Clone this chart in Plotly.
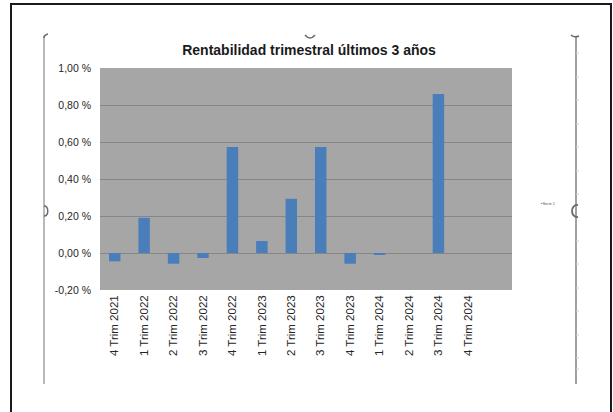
import plotly.graph_objects as go

W, H = 613, 412

categories = ["4 Trim 2021", "1 Trim 2022", "2 Trim 2022", "3 Trim 2022", "4 Trim 2022",
              "1 Trim 2023", "2 Trim 2023", "3 Trim 2023", "4 Trim 2023",
              "1 Trim 2024", "2 Trim 2024", "3 Trim 2024", "4 Trim 2024"]
values = [-0.045, 0.19, -0.058, -0.027, 0.573, 0.065, 0.293, 0.573, -0.058,
          -0.009, 0.0, 0.86, 0.0]
ytick_vals = [-0.2, 0.0, 0.2, 0.4, 0.6, 0.8, 1.0]
ytick_text = ["-0,20 %", "0,00 %", "0,20 %", "0,40 %", "0,60 %", "0,80 %", "1,00 %"]
title_text = "Rentabilidad trimestral últimos 3 años"
series_name = "Serie 1"


def px(x):
    return x / W


def py(y):
    return 1 - y / H


FONT = "Liberation Sans, Arial, sans-serif"

fig = go.Figure()
fig.add_trace(go.Bar(
    x=categories, y=values, name=series_name,
    marker=dict(color="#4a7ebb", line=dict(width=0)),
))

shapes = []
# outer black frame (bottom edge outside the view)
shapes.append(dict(type="path", xref="paper", yref="paper",
                   path=f"M {px(11)},{py(412)} L {px(11)},{py(4)} L {px(611)},{py(4)} L {px(611)},{py(412)}",
                   line=dict(color="#1a1a1a", width=2)))
# chart-area selection edges
shapes.append(dict(type="line", xref="paper", yref="paper",
                   x0=px(44), x1=px(44), y0=py(36), y1=py(384),
                   line=dict(color="#8a8a8a", width=1.2)))
shapes.append(dict(type="line", xref="paper", yref="paper",
                   x0=px(576), x1=px(576), y0=py(37), y1=py(384),
                   line=dict(color="#8a8a8a", width=1.6)))
# corner hooks
shapes.append(dict(type="path", xref="paper", yref="paper",
                   path=f"M {px(44)},{py(38)} Q {px(44)},{py(35)} {px(48)},{py(34)}",
                   line=dict(color="#6a6a6a", width=1.5)))
shapes.append(dict(type="path", xref="paper", yref="paper",
                   path=f"M {px(571)},{py(35)} Q {px(574)},{py(38)} {px(579)},{py(36)}",
                   line=dict(color="#6a6a6a", width=1.5)))
# handles
shapes.append(dict(type="path", xref="paper", yref="paper",
                   path=f"M {px(305)},{py(35)} Q {px(310)},{py(41)} {px(315)},{py(35)}",
                   line=dict(color="#6a6a6a", width=1.5)))
shapes.append(dict(type="path", xref="paper", yref="paper",
                   path=f"M {px(44)},{py(206)} C {px(49)},{py(206)} {px(49)},{py(216)} {px(44)},{py(216)}",
                   line=dict(color="#6a6a6a", width=1.5)))
shapes.append(dict(type="path", xref="paper", yref="paper",
                   path=f"M {px(578)},{py(205)} C {px(570)},{py(204)} {px(570)},{py(218)} {px(578)},{py(217)}",
                   line=dict(color="#6a6a6a", width=1.8)))
# faint ticks on right edge
for yy in [53, 77, 100, 124, 147, 171, 194, 241, 264, 288, 311, 335, 358, 369]:
    shapes.append(dict(type="line", xref="paper", yref="paper",
                       x0=px(576), x1=px(579), y0=py(yy), y1=py(yy),
                       line=dict(color="#d0d0d0", width=1)))

annotations = [
    dict(xref="paper", yref="paper", x=px(548), y=py(203), text="▪" + series_name,
         showarrow=False, font=dict(size=4, color="#555", family=FONT),
         xanchor="center", yanchor="middle"),
]

fig.update_layout(
    width=W, height=H,
    margin=dict(l=0, r=0, t=0, b=0),
    paper_bgcolor="white",
    plot_bgcolor="#a6a6a6",
    font=dict(family=FONT, color="#262626"),
    title=dict(text="<b>" + title_text + "</b>", x=px(309), y=py(50),
               xanchor="center", yanchor="middle", xref="paper", yref="paper",
               font=dict(size=14, color="#1a1a1a", family=FONT)),
    showlegend=False,
    bargap=0.61,
    shapes=shapes,
    annotations=annotations,
    xaxis=dict(domain=[px(100), px(512)], type="category",
               categoryorder="array", categoryarray=categories,
               range=[-0.5, 13.5], tickangle=-90, showgrid=False, automargin=False,
               showline=False, ticks="", tickfont=dict(size=11.5, color="#262626"),
               ticklabelstandoff=2),
    yaxis=dict(domain=[py(290), py(68)], range=[-0.2, 1.0], automargin=False,
               tickvals=ytick_vals, ticktext=ytick_text,
               showgrid=True, gridcolor="#868686", gridwidth=1,
               zeroline=True, zerolinecolor="#868686", zerolinewidth=1,
               showline=False, ticks="", tickfont=dict(size=10.5, color="#262626"),
               ticklabelstandoff=8),
)

fig.write_html("out.html", config={"displayModeBar": False},
               post_script="document.body.style.margin='0';")
